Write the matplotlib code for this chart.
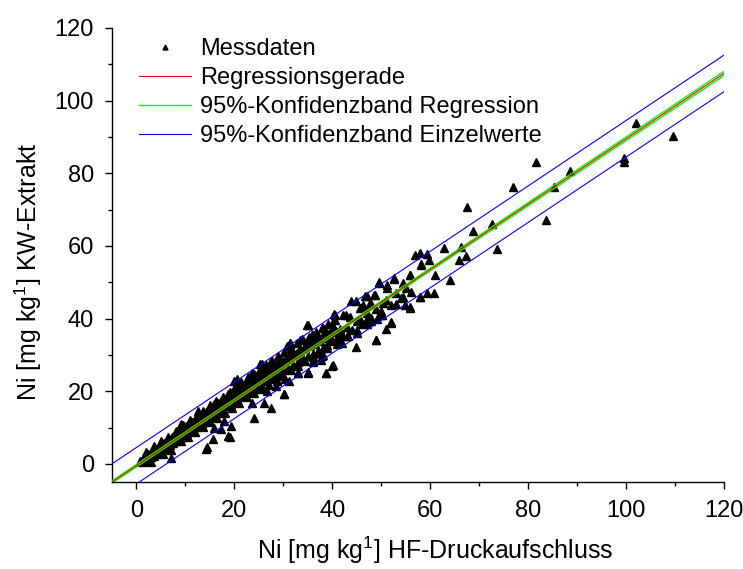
"""Ni: KW-Extrakt vs. HF-Druckaufschluss, Regression mit Konfidenzbaendern."""

import matplotlib

matplotlib.use("Agg")
import matplotlib.pyplot as plt
import numpy as np
from matplotlib.ticker import MultipleLocator

plt.rcParams["font.family"] = ["Liberation Sans", "DejaVu Sans"]
plt.rcParams["mathtext.default"] = "regular"

HF = [
    109.5, 102.0, 99.6, 99.6, 88.6, 81.5, 85.3, 77.0, 83.6, 67.5, 72.6, 68.7, 73.7, 62.8, 66.2,
    56.9, 57.9, 59.4, 59.8, 58.2, 65.8, 67.3, 60.9, 55.8, 52.5, 64.0, 49.6,
    58.2, 55.9, 52.5, 49.6, 51.1, 51.1, 54.4, 48.6, 47.0, 43.9, 44.9, 46.3, 45.6, 48.0, 50.3,
    53.0, 54.9, 55.9, 57.9, 59.4, 60.8, 47.6, 50.2, 52.0, 50.9, 48.9, 40.3, 42.2, 45.6, 45.1,
    42.0, 44.9, 43.3, 35.1, 37.8, 35.8, 33.8, 31.4, 39.9, 37.8, 41.2,
    57.9, 55.8, 54.4, 51.9, 49.0, 50.0, 49.1, 47.0, 47.8, 46.7, 48.7, 47.6, 46.1, 42.8, 43.6, 40.5,
    34.9, 36.1, 36.9, 33.4, 35.0, 31.3, 31.1, 32.0, 33.4, 36.1, 37.6, 38.8, 35.0, 32.9, 30.4,
    30.1, 27.4, 25.7, 23.6, 23.3, 19.9, 20.6, 28.7, 28.4, 26.7, 25.3,
    39.9, 40.7, 40.1, 38.7, 38.0, 36.1, 35.1, 32.9, 31.1, 30.1, 26.1, 23.6, 19.1, 15.7,
    25.3, 27.4, 30.7, 31.4, 33.4, 27.4, 24.0, 19.3, 17.9, 15.9,
    18.7, 14.2, 7.1, 17.2, 12.5, 9.1, 7.8, 5.1, 3.7, 2.4, 1.0, 15.9, 18.6, 20.6, 14.4,
    1.2, 1.5, 1.8, 2.1, 2.4, 2.7, 3.0, 3.2, 3.5, 3.8, 4.1, 4.4, 4.6, 4.9, 5.2, 5.5, 5.8, 6.0,
    6.3, 6.6, 6.9, 7.2, 7.5, 7.8, 8.0, 8.3, 8.6, 8.9, 9.2, 9.5, 9.8, 10.1, 10.4, 10.7, 11.0,
    11.3, 11.6, 11.9, 12.2, 12.5, 12.8, 13.1, 13.4, 13.7, 14.0, 14.3, 14.6, 14.9, 15.2, 15.5,
    15.8, 16.1, 16.4, 16.7, 17.0, 17.3, 17.6, 17.9, 18.2, 18.5, 18.8, 19.1, 19.4, 19.7, 20.0,
    20.3, 20.6, 20.9, 21.2, 21.5, 21.8, 22.1, 22.4, 22.7, 23.0, 23.3, 23.6, 23.9, 24.2, 24.5,
    24.8, 25.1, 25.4, 25.7, 26.0, 26.4, 26.8, 27.2, 27.6, 28.0, 28.4, 28.8, 29.2, 29.6, 30.0,
    30.5, 31.0, 31.5, 32.0, 32.5, 33.0, 33.5, 34.0, 34.5, 35.0, 35.5, 36.0, 36.5, 37.0, 37.5,
    38.0, 38.5, 39.0, 39.5, 40.0, 40.5, 41.0, 41.5, 42.0, 43.0, 44.0, 45.0, 46.0, 47.0, 48.0,
    49.0, 50.0, 51.0, 52.0, 53.0, 54.0, 55.0, 56.0,
    2.0, 3.6, 5.0, 6.5, 8.0, 9.5, 11.0, 12.3, 13.6, 15.0, 16.3, 17.6, 19.0, 20.2, 21.4, 22.8,
    24.0, 25.2, 26.5, 27.7, 29.0, 30.2, 31.5, 32.8, 34.0, 35.3, 36.6, 38.0, 39.2, 40.5,
    3.0, 5.5, 7.0, 9.0, 10.5, 12.0, 13.5, 15.0, 16.5, 18.0, 19.5, 21.0, 22.5, 24.0, 25.5, 27.0,
    28.5, 30.0, 31.5, 33.0, 34.5, 36.0, 37.5, 39.0, 41.0, 43.0, 45.0, 47.0,
    0.8, 1.6, 2.3, 2.9, 3.4, 4.0, 4.5, 5.1, 5.6, 6.2, 6.7, 7.3, 7.9, 8.4, 9.0, 9.6, 10.2, 10.8,
    11.4, 12.0, 12.6, 13.2, 13.8, 14.4, 15.0, 15.6, 16.2, 16.8, 17.4, 18.0, 18.6, 19.2, 19.8,
    20.4, 21.0, 21.6, 22.2, 22.8, 23.4, 24.0, 24.6, 25.2, 25.8, 26.4, 27.0, 27.6, 28.2, 28.8,
    29.4, 30.0, 30.7, 31.4, 32.1, 32.8, 33.5, 34.2, 35.0, 36.0, 37.0, 38.0, 39.0, 40.0,
]
KW = [
    90.2, 93.9, 84.1, 83.0, 80.7, 83.2, 76.1, 76.1, 67.1, 70.7, 66.1, 64.2, 59.1, 59.4, 59.6,
    57.4, 58.1, 57.9, 56.0, 54.8, 56.0, 57.2, 52.1, 52.1, 51.2, 50.7, 50.2,
    55.0, 52.1, 51.0, 49.9, 49.3, 48.4, 49.8, 46.6, 46.1, 44.9, 44.9, 43.7, 42.9, 44.0, 44.3,
    44.0, 43.8, 42.9, 45.9, 47.0, 47.0, 40.0, 40.9, 38.9, 37.0, 34.0, 41.3, 40.9, 40.0, 36.1,
    33.3, 32.1, 35.1, 38.2, 37.3, 35.6, 34.4, 33.3, 26.9, 29.8, 34.7,
    46.0, 43.2, 45.8, 39.1, 34.2, 41.1, 40.0, 40.0, 39.3, 46.3, 46.6, 44.3, 43.2, 41.1, 40.4, 41.1,
    38.1, 35.6, 35.8, 34.2, 32.9, 32.9, 30.1, 30.6, 29.7, 28.3, 28.7, 25.1, 25.1, 25.1, 23.3,
    19.1, 27.8, 27.4, 25.1, 24.2, 22.8, 23.3, 22.8, 21.4, 20.0, 20.5,
    38.4, 36.5, 27.1, 24.9, 30.1, 28.1, 25.3, 24.9, 22.8, 19.3, 16.8, 16.8, 7.4, 6.8,
    27.4, 28.3, 32.4, 33.3, 31.5, 15.5, 12.7, 10.4, 11.8, 10.0,
    7.7, 4.2, 1.6, 9.5, 14.6, 10.9, 8.2, 5.4, 4.0, 2.7, 0.8, 16.4, 19.1, 21.0, 4.5,
    0.6, 1.4, 0.9, 1.9, 1.3, 2.4, 1.8, 2.9, 2.2, 3.4, 2.6, 3.9, 3.0, 4.4, 3.5, 5.1, 4.2, 5.6,
    4.8, 6.2, 5.1, 6.9, 5.8, 7.4, 6.3, 8.1, 6.8, 8.6, 7.4, 9.3, 8.0, 9.9, 8.5, 10.6, 9.1,
    11.2, 9.6, 11.9, 10.1, 12.4, 10.9, 13.0, 11.3, 13.7, 11.9, 14.3, 12.4, 14.9, 13.0, 15.6,
    13.5, 16.2, 14.1, 16.8, 14.6, 17.3, 15.0, 17.9, 15.8, 18.5, 16.2, 19.2, 16.6, 19.8, 17.3,
    20.4, 17.9, 21.0, 18.4, 21.6, 18.9, 22.0, 19.5, 22.6, 20.1, 23.1, 20.6, 23.8, 21.0, 24.3,
    21.6, 24.9, 22.1, 25.4, 22.8, 26.0, 23.3, 26.6, 23.9, 27.2, 24.5, 27.9, 25.1, 28.4, 25.8,
    29.0, 26.4, 29.6, 27.2, 30.3, 28.0, 31.0, 28.8, 31.8, 29.6, 32.4, 30.3, 33.0, 31.2, 33.8,
    32.0, 34.6, 32.8, 35.3, 33.8, 36.2, 34.6, 37.0, 35.5, 37.8, 36.9, 39.2, 38.5, 41.5, 40.2,
    42.6, 42.0, 45.0, 43.8, 47.0, 45.6, 48.5, 47.3,
    3.3, 4.8, 6.2, 7.5, 9.0, 10.6, 12.1, 13.4, 14.5, 16.2, 17.4, 18.5, 19.9, 21.2, 22.5, 23.9,
    24.8, 26.0, 27.3, 28.3, 29.7, 30.8, 31.9, 33.2, 34.1, 35.0, 36.4, 37.5, 38.6, 39.6,
    0.6, 2.8, 3.9, 6.2, 7.3, 8.9, 10.2, 11.4, 12.7, 14.1, 15.4, 16.8, 18.4, 19.4, 20.9, 21.8,
    23.4, 24.2, 25.8, 26.9, 28.4, 29.5, 30.6, 31.8, 33.0, 35.3, 36.8, 38.6,
    0.9, 2.0, 2.8, 3.0, 3.6, 4.1, 4.6, 5.0, 5.7, 6.4, 6.9, 7.5, 7.9, 8.5, 9.1, 9.7, 10.3, 10.8,
    11.5, 11.9, 12.6, 13.1, 13.6, 14.2, 14.8, 15.2, 15.8, 16.5, 16.9, 17.6, 18.1, 18.6, 19.2,
    19.6, 20.3, 20.8, 21.3, 21.9, 22.4, 22.9, 23.5, 23.9, 24.6, 25.0, 25.7, 26.1, 26.8, 27.2,
    27.7, 28.3, 28.9, 29.5, 30.1, 30.6, 31.4, 31.9, 32.6, 33.6, 34.3, 35.4, 36.0, 37.1,
]

# Regressionsgerade und Baender
INTERCEPT = -0.5
SLOPE = 0.9
X_MEAN = 20.0
CONF_MIN, CONF_GROWTH = 0.3, 0.005    # 95%-Konfidenzband Regression
PRED_HALF = 5.0                        # 95%-Konfidenzband Einzelwerte
X_LINE = [-5.0, 120.0]

xs = np.linspace(X_LINE[0], X_LINE[1], 200)
fit = INTERCEPT + SLOPE * xs
conf = np.sqrt(CONF_MIN ** 2 + (CONF_GROWTH * (xs - X_MEAN)) ** 2)
pred = np.sqrt(PRED_HALF ** 2 + conf ** 2)

fig = plt.figure(figsize=(7.43, 5.69), dpi=100)
ax = fig.add_axes([112 / 743, 1 - 482 / 569, 612 / 743, 454 / 569])

ax.plot(HF, KW, linestyle="none", marker="^", ms=5.5, color="black", mec="black", label="Messdaten")
ax.plot(xs, fit, color="#ff0000", lw=0.8, label="Regressionsgerade", zorder=4)
ax.plot(xs, fit + conf, color="#00ff00", lw=1.0, label="95%-Konfidenzband Regression", zorder=3)
ax.plot(xs, fit - conf, color="#00ff00", lw=1.0, zorder=3)
ax.plot(xs, fit + pred, color="#0000ff", lw=0.8, label="95%-Konfidenzband Einzelwerte", zorder=3)
ax.plot(xs, fit - pred, color="#0000ff", lw=0.8, zorder=3)

ax.set_xlim(-5, 120)
ax.set_ylim(-5, 120)
ax.xaxis.set_major_locator(MultipleLocator(20))
ax.xaxis.set_minor_locator(MultipleLocator(10))
ax.yaxis.set_major_locator(MultipleLocator(20))
ax.yaxis.set_minor_locator(MultipleLocator(10))
for side in ["top", "right"]:
    ax.spines[side].set_visible(False)
for side in ["left", "bottom"]:
    ax.spines[side].set_linewidth(1.0)
ax.tick_params(which="major", direction="out", length=5, width=1.0, labelsize=17, pad=8)
ax.tick_params(which="minor", direction="out", length=3, width=1.0)

ax.set_xlabel("Ni [mg kg$^{1}$] HF-Druckaufschluss", fontsize=18)
ax.set_ylabel("Ni [mg kg$^{1}$] KW-Extrakt", fontsize=18)
ax.xaxis.set_label_coords((435 - 112) / 612, -(550 - 482) / 454)
ax.yaxis.set_label_coords(-(112 - 28) / 612, (482 - 272) / 454)
ax.xaxis.label.set_va("center")
ax.yaxis.label.set_va("center")

ax.legend(loc="upper left", bbox_to_anchor=(139 / 743, 1 - 38 / 569), bbox_transform=fig.transFigure,
          frameon=False, fontsize=17, handlelength=2.2, handletextpad=0.4, labelspacing=0.3,
          borderpad=0, borderaxespad=0, markerscale=0.65)

fig.savefig("out.png", dpi=100)
